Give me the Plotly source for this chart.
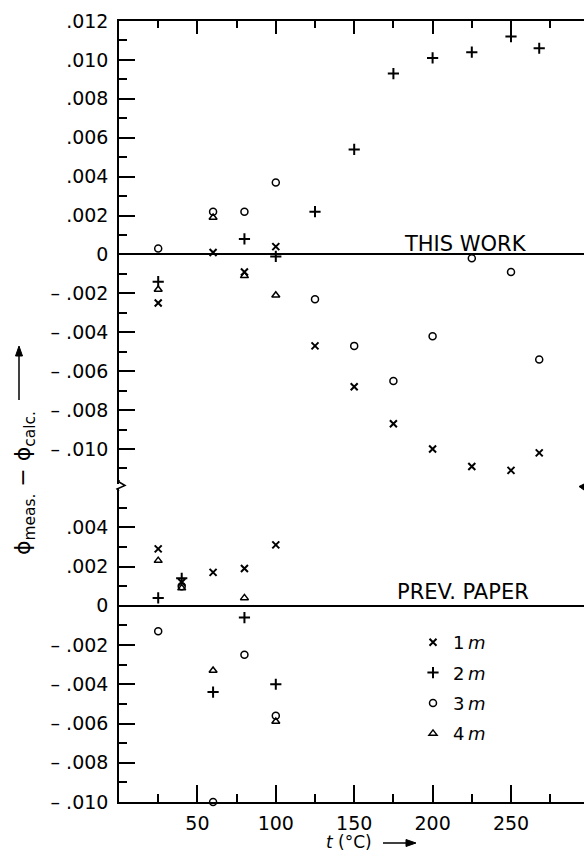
import plotly.graph_objects as go

# ---------------- data ----------------
# Top panel ("THIS WORK")
t_this = [25, 60, 80, 100, 125, 150, 175, 200, 225, 250, 268]
this_1m = [-0.0025, 0.0001, -0.0009, 0.0004, -0.0047, -0.0068, -0.0087, -0.0100, -0.0109, -0.0111, -0.0102]
t_this_2m = [25, 80, 100, 125, 150, 175, 200, 225, 250, 268]
this_2m = [-0.0014, 0.0008, -0.0001, 0.0022, 0.0054, 0.0093, 0.0101, 0.0104, 0.0112, 0.0106]
this_3m = [0.0003, 0.0022, 0.0022, 0.0037, -0.0023, -0.0047, -0.0065, -0.0042, -0.0002, -0.0009, -0.0054]
t_this_4m = [25, 60, 80, 100]
this_4m = [-0.0018, 0.0019, -0.0011, -0.0021]

# Bottom panel ("PREV. PAPER")
t_prev = [25, 40, 60, 80, 100]
prev_1m = [0.0029, 0.0012, 0.0017, 0.0019, 0.0031]
prev_2m = [0.0004, 0.0014, -0.0044, -0.0006, -0.0040]
prev_3m = [-0.0013, 0.0010, -0.0100, -0.0025, -0.0056]
prev_4m = [0.0023, 0.0009, -0.0033, 0.0004, -0.0059]

x_ticks = [50, 100, 150, 200, 250]
x_minor = [25, 75, 125, 175, 225, 275]
top_ticks = [0.012, 0.010, 0.008, 0.006, 0.004, 0.002, 0, -0.002, -0.004, -0.006, -0.008, -0.010]
top_labels = [".012", ".010", ".008", ".006", ".004", ".002", "0",
              "– .002", "– .004", "– .006", "– .008", "– .010"]
top_minor = [0.011, 0.009, 0.007, 0.005, 0.003, 0.001, -0.001, -0.003, -0.005, -0.007, -0.009, -0.011]
bot_ticks = [0.004, 0.002, 0, -0.002, -0.004, -0.006, -0.008, -0.010]
bot_labels = [".004", ".002", "0", "– .002", "– .004", "– .006", "– .008", "– .010"]
bot_minor = [0.005, 0.003, 0.001, -0.001, -0.003, -0.005, -0.007, -0.009]
top_range = [-0.0118, 0.012]
bot_range = [-0.010, 0.006]

# ---------------- geometry helpers ----------------
W, H = 584, 853
L, R, T, B = 119, 584, 21, 802
def px(x):
    return (x - L) / (R - L)
def py(y):
    return (B - y) / (B - T)

FONT = "DejaVu Sans"
styles = {
    "1m": dict(symbol="x-thin", size=7, line=dict(width=2, color="black"), color="black"),
    "2m": dict(symbol="cross-thin", size=8, line=dict(width=2, color="black"), color="black"),
    "3m": dict(symbol="circle-open", size=7, line=dict(width=1.5, color="black"), color="black"),
    "4m": dict(symbol="triangle-up-open", size=7, line=dict(width=1.5, color="black"), color="black"),
}
names = {"1m": "1\u2009<i>m</i>", "2m": "2\u2009<i>m</i>", "3m": "3\u2009<i>m</i>", "4m": "4\u2009<i>m</i>"}

fig = go.Figure()
top_series = [("1m", t_this, this_1m), ("2m", t_this_2m, this_2m), ("3m", t_this, this_3m), ("4m", t_this_4m, this_4m)]
for key, xs, ys in top_series:
    fig.add_trace(go.Scatter(x=xs, y=ys, mode="markers", marker=styles[key], xaxis="x2", yaxis="y2",
                             showlegend=False, legendgroup=key, cliponaxis=False))
bot_series = [("1m", prev_1m), ("2m", prev_2m), ("3m", prev_3m), ("4m", prev_4m)]
for key, ys in bot_series:
    fig.add_trace(go.Scatter(x=t_prev, y=ys, mode="markers", marker=styles[key], xaxis="x", yaxis="y",
                             name=names[key], legendgroup=key, showlegend=True, cliponaxis=False))

tickfont = dict(family=FONT, size=19, color="black")
xrange = [0, (R - L) / 1.568]
top_dom = [py(484), 1]
bot_dom = [0, py(488)]

def minor(vals, ln):
    return dict(tickmode="array", tickvals=vals, ticks="inside", ticklen=ln, tickwidth=1.5, tickcolor="black")

fig.update_layout(
    width=W, height=H,
    margin=dict(l=L, r=W - R, t=T, b=H - B, pad=0),
    paper_bgcolor="white", plot_bgcolor="white",
    font=dict(family=FONT, color="black"),
    xaxis=dict(domain=[0, 1], anchor="y", range=xrange, showline=True, linecolor="black", linewidth=1.5,
               ticks="inside", ticklen=17, tickwidth=1.5, tickcolor="black",
               tickmode="array", tickvals=x_ticks, ticktext=[str(v) for v in x_ticks],
               minor=minor(x_minor, 8), tickfont=tickfont, showgrid=False, zeroline=False, ticklabelstandoff=3),
    xaxis2=dict(domain=[0, 1], anchor="y2", side="top", range=xrange, showline=True, linecolor="black", linewidth=1.5,
                ticks="inside", ticklen=13, tickwidth=1.5, tickcolor="black",
                tickmode="array", tickvals=x_ticks, showticklabels=False,
                minor=minor(x_minor, 7), showgrid=False, zeroline=False),
    yaxis=dict(domain=bot_dom, anchor="x", range=bot_range,
               showline=True, linecolor="black", linewidth=1.5,
               ticks="inside", ticklen=16, tickwidth=1.5, tickcolor="black",
               tickmode="array", tickvals=bot_ticks, ticktext=bot_labels,
               minor=minor(bot_minor, 8), tickfont=tickfont, showgrid=False,
               zeroline=True, zerolinecolor="black", zerolinewidth=1.5, ticklabelstandoff=5),
    yaxis2=dict(domain=top_dom, anchor="x2", range=top_range,
                showline=True, linecolor="black", linewidth=1.5,
                ticks="inside", ticklen=16, tickwidth=1.5, tickcolor="black",
                tickmode="array", tickvals=top_ticks, ticktext=top_labels,
                minor=minor(top_minor, 8), tickfont=tickfont, showgrid=False,
                zeroline=True, zerolinecolor="black", zerolinewidth=1.5, ticklabelstandoff=5),
    yaxis3=dict(domain=bot_dom, anchor="x", overlaying="y", side="right", range=bot_range,
                showline=False, ticks="inside", ticklen=14, tickwidth=1.5, tickcolor="black",
                tickmode="array", tickvals=bot_ticks, showticklabels=False,
                minor=minor(bot_minor, 6), showgrid=False, zeroline=False),
    yaxis4=dict(domain=top_dom, anchor="x2", overlaying="y2", side="right", range=top_range,
                showline=False, ticks="inside", ticklen=14, tickwidth=1.5, tickcolor="black",
                tickmode="array", tickvals=top_ticks, showticklabels=False,
                minor=minor(top_minor, 6), showgrid=False, zeroline=False),
    legend=dict(x=px(413), y=py(624), xanchor="left", yanchor="top", bgcolor="rgba(0,0,0,0)",
                font=dict(family=FONT, size=18, color="black"), traceorder="grouped", tracegroupgap=4,
                itemsizing="trace"),
)

# axis break on the left axis and marker on the right
fig.add_shape(type="path", xref="paper", yref="paper",
              path=f"M {px(119)} {py(480)} L {px(119)} {py(482)} L {px(125)} {py(485.5)} L {px(117)} {py(489)} L {px(119)} {py(491)}",
              line=dict(color="black", width=1.5))
fig.add_shape(type="path", xref="paper", yref="paper",
              path=f"M {px(584)} {py(484)} L {px(579)} {py(486.5)} L {px(584)} {py(490)} Z",
              line=dict(color="black", width=1), fillcolor="black")

# panel labels
fig.add_annotation(text="THIS WORK", xref="paper", yref="paper", x=px(465), y=py(244),
                   xanchor="center", yanchor="middle", showarrow=False,
                   font=dict(family=FONT, size=21, color="black"))
fig.add_annotation(text="PREV. PAPER", xref="paper", yref="paper", x=px(463), y=py(591.5),
                   xanchor="center", yanchor="middle", showarrow=False,
                   font=dict(family=FONT, size=21, color="black"))

# y-axis title with arrow (arrow drawn as shapes)
fig.add_annotation(text="ϕ<sub>meas.</sub> − ϕ<sub>calc.</sub>", xref="paper", yref="paper",
                   x=px(24), y=py(483), xanchor="center", yanchor="middle", textangle=-90, showarrow=False,
                   font=dict(family=FONT, size=22, color="black"))
fig.add_shape(type="line", xref="paper", yref="paper", x0=px(19), x1=px(19), y0=py(400), y1=py(353),
              line=dict(color="black", width=1.5))
fig.add_shape(type="path", xref="paper", yref="paper",
              path=f"M {px(19)} {py(346)} L {px(15.5)} {py(356)} L {px(22.5)} {py(356)} Z",
              line=dict(color="black", width=1), fillcolor="black")

# x-axis title with arrow
fig.add_annotation(text="<i>t</i> (°C)", xref="paper", yref="paper", x=px(374), y=py(842),
                   xanchor="right", yanchor="middle", showarrow=False,
                   font=dict(family=FONT, size=17, color="black"))
fig.add_shape(type="line", xref="paper", yref="paper", x0=px(383), x1=px(408), y0=py(843), y1=py(843),
              line=dict(color="black", width=1.5))
fig.add_shape(type="path", xref="paper", yref="paper",
              path=f"M {px(416)} {py(843)} L {px(406)} {py(839.5)} L {px(406)} {py(846.5)} Z",
              line=dict(color="black", width=1), fillcolor="black")

fig.write_html("out.html", config={"displayModeBar": False},
               post_script="document.body.style.margin='0px';document.body.style.overflow='hidden';")
